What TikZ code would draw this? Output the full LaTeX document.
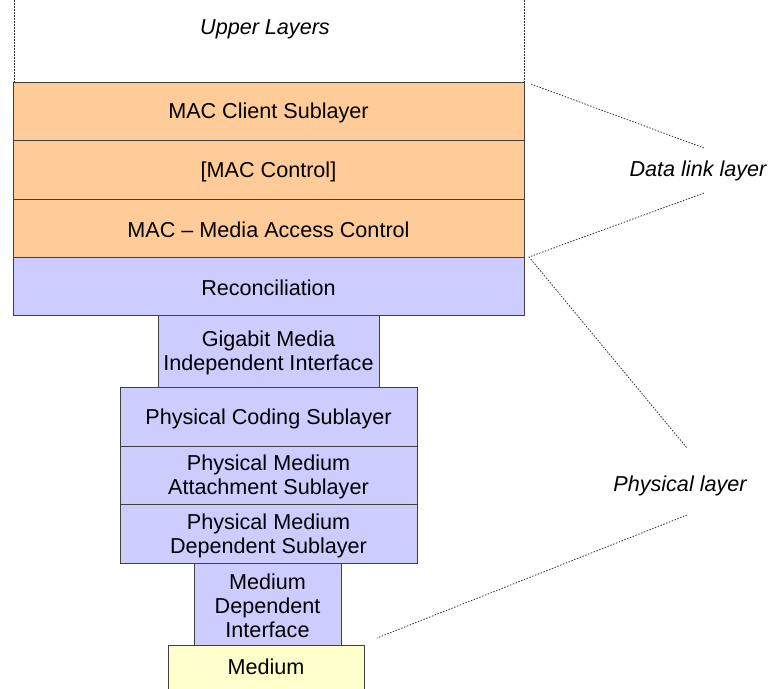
\documentclass[tikz,border=0pt]{standalone}
\usepackage{fontspec}
\setmainfont{Liberation Sans}
\definecolor{macfill}{HTML}{FFCC99}
\definecolor{phyfill}{HTML}{CCCCFF}
\definecolor{medfill}{HTML}{FFFFCC}
\begin{document}
\begin{tikzpicture}[x=1pt,y=-1pt,
  layer/.style={draw=black!75, line width=0.9pt, inner sep=0pt},
  mac/.style={layer, fill=macfill},
  phy/.style={layer, fill=phyfill},
  med/.style={layer, fill=medfill},
  txt/.style={inner sep=0pt, align=center, font=\fontsize{21.6}{24}\selectfont},
  lbl/.style={font=\fontsize{21.6}{24}\selectfont\itshape},
  guide/.style={draw=black!80, line width=0.8pt, dash pattern=on 1.5pt off 1.5pt}]
\useasboundingbox (0,0) rectangle (770,688);

% upper layers
\coordinate (ul) at (14,0);
\coordinate (ur) at (524,0);
\coordinate (ulb) at (14,82);
\coordinate (urb) at (524,82);
\draw[guide] (ul) -- (ulb);
\draw[guide] (ur) -- (urb);
\node[lbl] (upper) at (265,29) {Upper Layers};

% data link sublayers
\node[mac, minimum width=511, minimum height=58.5] (client) at (268.5,111.5) {};
\node[mac, minimum width=511, minimum height=58.5] (ctrl) at (268.5,170) {};
\node[mac, minimum width=511, minimum height=58.5] (mac) at (268.5,228.5) {};

% physical sublayers
\node[phy, minimum width=511, minimum height=58] (rec) at (268.5,286.5) {};
\node[phy, minimum width=221, minimum height=72] (gmii) at (268.5,351.5) {};
\node[phy, minimum width=297, minimum height=59] (pcs) at (268.5,417) {};
\node[phy, minimum width=297, minimum height=58] (pma) at (268.5,475.5) {};
\node[phy, minimum width=297, minimum height=59] (pmd) at (268.5,534) {};
\node[phy, minimum width=147, minimum height=82] (mdi) at (267.5,604.5) {};
\node[med, minimum width=196, minimum height=60, anchor=north] (medium) at (266,645) {};

% sublayer names
\node[txt] (client-t) at ([yshift=-1.5pt]client.center) {MAC Client Sublayer};
\node[txt] (ctrl-t) at ([yshift=-1.5pt]ctrl.center) {[MAC Control]};
\node[txt] (mac-t) at ([yshift=-1.5pt]mac.center) {MAC -- Media Access Control};
\node[txt] (rec-t) at ([yshift=-1.5pt]rec.center) {Reconciliation};
\node[txt] (gmii-t) at ([yshift=-1.5pt]gmii.center) {Gigabit Media\\Independent Interface};
\node[txt] (pcs-t) at ([yshift=-1.5pt]pcs.center) {Physical Coding Sublayer};
\node[txt] (pma-t) at ([yshift=-1.5pt]pma.center) {Physical Medium\\Attachment Sublayer};
\node[txt] (pmd-t) at ([yshift=-1.5pt]pmd.center) {Physical Medium\\Dependent Sublayer};
\node[txt] (mdi-t) at ([yshift=-1pt]mdi.center) {Medium\\Dependent\\Interface};
\node[txt] (medium-t) at (266,667) {Medium};

% layer labels and brackets
\node[lbl] (dll) at (698,171) {Data link layer};
\node[lbl] (phl) at (680,486) {Physical layer};
\coordinate (d1) at (531,84);
\coordinate (d2) at (704,148);
\coordinate (d3) at (704,193);
\coordinate (d4) at (529,257);
\coordinate (p1) at (687,448);
\coordinate (p2) at (687,515);
\coordinate (p3) at (377,638);
\draw[guide] (d1) -- (d2);
\draw[guide] (d3) -- (d4) -- (p1);
\draw[guide] (p2) -- (p3);
\end{tikzpicture}
\end{document}
